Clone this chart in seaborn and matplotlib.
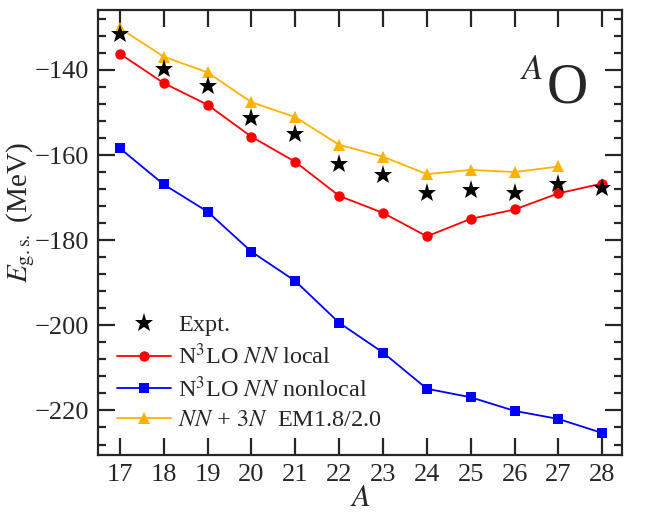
import numpy as np
import pandas as pd
import matplotlib
matplotlib.use('Agg')
import matplotlib.pyplot as plt
from matplotlib.ticker import MultipleLocator
import seaborn as sns

# data
A = [17, 18, 19, 20, 21, 22, 23, 24, 25, 26, 27, 28]
expt = [-131.6, -139.8, -143.8, -151.2, -155.1, -162.0, -164.7, -169.0, -168.2, -168.9, -166.9, -167.8]
nn_local = [-136.2, -143.1, -148.2, -155.7, -161.6, -169.6, -173.6, -179.1, -175.0, -172.8, -169.0, -166.7]
nn_nonlocal = [-158.4, -166.9, -173.3, -182.7, -189.6, -199.4, -206.4, -214.9, -216.9, -220.1, -222.0, -225.3]
A_3n = [17, 18, 19, 20, 21, 22, 23, 24, 25, 26, 27]
nn_3n = [-130.2, -136.9, -140.6, -147.6, -151.1, -157.6, -160.4, -164.5, -163.5, -164.0, -162.7]

sns.set_theme(style='ticks')
plt.rcParams['font.family'] = ['Liberation Serif', 'DejaVu Serif']
plt.rcParams['mathtext.fontset'] = 'stix'
plt.rcParams['axes.linewidth'] = 1.6

fig = plt.figure(figsize=(6.48, 5.12), dpi=100)
ax = fig.add_axes([0.151, 0.111, 0.809, 0.869])

sns.lineplot(x=A, y=nn_local, ax=ax, color='#FF0000', marker='o', markersize=7.5,
             markeredgewidth=0, linewidth=1.3, label=r'N$^3$LO $NN$ local')
sns.lineplot(x=A, y=nn_nonlocal, ax=ax, color='#0000FF', marker='s', markersize=7,
             markeredgewidth=0, linewidth=1.3, label=r'N$^3$LO $NN$ nonlocal')
sns.lineplot(x=A_3n, y=nn_3n, ax=ax, color='#FFB300', marker='^', markersize=9,
             markeredgewidth=0, linewidth=1.3, label=r'$NN$ + $3N$  EM1.8/2.0')
ax.plot(A, expt, linestyle='none', marker='*', markersize=14, color='black',
        markeredgewidth=0, zorder=5, label='Expt.')

handles, labels = ax.get_legend_handles_labels()
order = [3, 0, 1, 2]
ax.legend([handles[i] for i in order], [labels[i] for i in order],
          loc='lower left', bbox_to_anchor=(0.0, 0.01), frameon=False,
          fontsize=17.5, handlelength=2.2, handletextpad=0.3, labelspacing=0.3,
          borderaxespad=0.4)

ax.set_xlim(16.5, 28.45)
ax.set_ylim(-230.5, -126)
ax.set_xticks(A)
ax.yaxis.set_major_locator(MultipleLocator(20))
ax.yaxis.set_minor_locator(MultipleLocator(4))
ax.tick_params(which='both', direction='in', top=True, right=True, labelsize=19, width=1.6)
ax.tick_params(which='major', length=12, pad=6)
ax.tick_params(which='minor', length=6)

ax.set_xlabel(r'$A$', fontsize=22, labelpad=-1)
ax.set_ylabel(r'$E_{\rm g.s.}$ (MeV)', fontsize=21)
ax.yaxis.set_label_coords(-0.117, 0.545)

ax.text(0.857, 0.793, 'O', transform=ax.transAxes, fontsize=41, ha='left', va='baseline')
ax.text(0.806, 0.845, r'$A$', transform=ax.transAxes, fontsize=25, ha='left', va='baseline')

fig.savefig('out.png', dpi=100)
